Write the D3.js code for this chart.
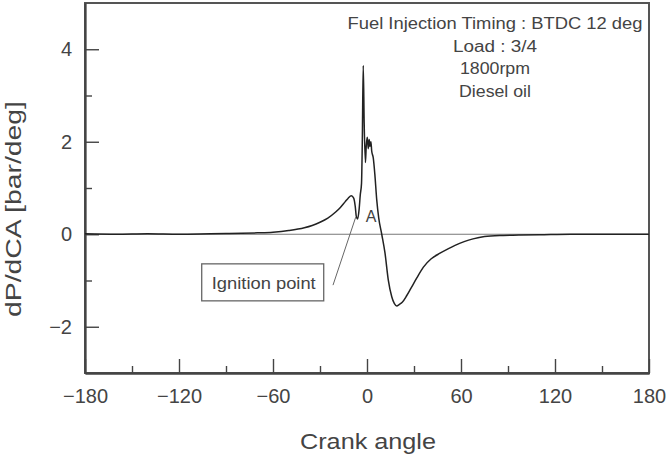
<!DOCTYPE html>
<html>
<head>
<meta charset="utf-8">
<script src="https://cdn.jsdelivr.net/npm/d3@7"></script>
<style>
  html, body { margin: 0; padding: 0; background: #fff; overflow: hidden; }
  svg { display: block; font-family: "Liberation Sans", Arial, sans-serif; }
  .axis text { fill: #444; font-size: 20px; }
  .axis path, .axis line { stroke: #444; }
</style>
</head>
<body>
<svg id="chart"></svg>
<script>
// crank angle (deg) and dP/dCA (bar/deg)
const crankAngle = [-180, -160, -140, -120, -100, -90, -80, -70, -60, -50, -40, -35, -30, -25, -20, -17, -14, -12, -10,
  -8.5, -7.5, -6.8, -6, -5, -4.3, -3.5, -3.0, -2.4, -1.8, -1.0, -0.5, 0.2, 0.8, 1.4, 1.9, 2.5, 3.0, 4.0, 5.0, 6.2, 7.5,
  9.4, 11.5, 13.6, 15.8, 17.5, 19, 20.5, 22.5, 25.3, 28, 31.7, 36, 41, 46.6, 52, 56.2, 62, 67.7, 75, 87, 98, 110, 130, 150, 180];
const dPdCA = [0.01, 0.0, 0.01, 0.0, 0.01, 0.015, 0.02, 0.03, 0.045, 0.08, 0.14, 0.19, 0.26, 0.35, 0.48, 0.58, 0.7, 0.78, 0.83,
  0.78, 0.6, 0.38, 0.33, 0.55, 0.85, 1.1, 2.0, 3.65, 2.4, 1.55, 1.9, 2.1, 1.85, 2.05, 1.9, 2.0, 1.8, 1.65, 1.3, 0.75, 0.35,
  0.0, -0.41, -0.99, -1.35, -1.5, -1.55, -1.52, -1.47, -1.33, -1.17, -0.95, -0.71, -0.53, -0.41, -0.31, -0.24, -0.16, -0.1, -0.05, -0.025, -0.015, -0.01, 0.0, 0.0, 0.0];

const xTicks = [-180, -120, -60, 0, 60, 120, 180];
const xMinorTicks = [-150, -90, -30, 30, 90, 150];
const yTicks = [-2, 0, 2, 4];
const yMinorTicks = [-1, 1, 3];

const infoLines = ["Fuel Injection Timing : BTDC 12 deg", "Load : 3/4", "1800rpm", "Diesel oil"];
const infoWidths = [295, 84, 70, 72];

const config = {
  width: 668, height: 454,
  margin: {top: 3, right: 19, bottom: 81, left: 85}
};

const svg = d3.select('#chart')
  .attr('width', config.width)
  .attr('height', config.height);

const w = config.width - config.margin.left - config.margin.right;
const h = config.height - config.margin.top - config.margin.bottom;

const chart = svg.append('g')
  .attr('transform', `translate(${config.margin.left},${config.margin.top})`);

const xScale = d3.scaleLinear().domain([-180, 180]).range([0, w]);
const yScale = d3.scaleLinear().domain([-3, 5]).range([h, 0]);

// frame box
chart.append('rect')
  .attr('x', 0).attr('y', 0)
  .attr('width', w).attr('height', h)
  .attr('fill', 'none')
  .attr('stroke', '#555')
  .attr('stroke-width', 2);

// zero line
chart.append('line')
  .attr('x1', 0).attr('x2', w)
  .attr('y1', yScale(0)).attr('y2', yScale(0))
  .attr('stroke', '#777').attr('stroke-width', 1.2);

const minus = d => d3.format('')(d).replace('-', '\u2212');

// axes, ticks point inward
chart.append('g')
  .attr('class', 'axis x-axis')
  .attr('transform', `translate(0,${h})`)
  .call(d3.axisBottom(xScale).tickValues(xTicks).tickSize(-14).tickPadding(16)
    .tickFormat(minus).tickSizeOuter(0));
chart.append('g')
  .attr('class', 'axis')
  .attr('transform', `translate(0,${h})`)
  .call(d3.axisBottom(xScale).tickValues(xMinorTicks).tickSize(-7).tickFormat('').tickSizeOuter(0));

chart.append('g')
  .attr('class', 'axis y-axis')
  .call(d3.axisLeft(yScale).tickValues(yTicks).tickSize(-14).tickPadding(13)
    .tickFormat(minus).tickSizeOuter(0));
chart.append('g')
  .attr('class', 'axis')
  .call(d3.axisLeft(yScale).tickValues(yMinorTicks).tickSize(-7).tickFormat('').tickSizeOuter(0));

chart.selectAll('.axis path').attr('stroke-width', 1.8);
chart.selectAll('.axis line').attr('stroke-width', 1.4);

// curve
const data = crankAngle.map((c, i) => ({c, v: dPdCA[i]}));
const line = d3.line()
  .x(d => xScale(d.c))
  .y(d => yScale(d.v))
  .curve(d3.curveMonotoneX);

chart.append('path')
  .datum(data)
  .attr('d', line)
  .attr('fill', 'none')
  .attr('stroke', '#222')
  .attr('stroke-width', 1.5);

// axis labels
svg.append('text')
  .attr('x', config.margin.left + w / 2 + 1)
  .attr('y', 449)
  .attr('text-anchor', 'middle')
  .attr('font-size', 22)
  .attr('textLength', 136)
  .attr('lengthAdjust', 'spacingAndGlyphs')
  .attr('fill', '#444')
  .text('Crank angle');

svg.append('text')
  .attr('transform', 'translate(21,209) rotate(-90)')
  .attr('text-anchor', 'middle')
  .attr('font-size', 22)
  .attr('textLength', 216)
  .attr('lengthAdjust', 'spacingAndGlyphs')
  .attr('fill', '#444')
  .text('dP/dCA [bar/deg]');

// info text block
svg.selectAll('.info')
  .data(infoLines)
  .join('text')
  .attr('class', 'info')
  .attr('x', 495)
  .attr('y', (d, i) => 29 + i * 22.5)
  .attr('text-anchor', 'middle')
  .attr('font-size', 16)
  .attr('textLength', (d, i) => infoWidths[i])
  .attr('lengthAdjust', 'spacingAndGlyphs')
  .attr('fill', '#444')
  .text(d => d);

// annotation: A and ignition point
chart.append('text')
  .attr('x', xScale(-0.8)).attr('y', yScale(0.26))
  .attr('font-size', 16)
  .attr('fill', '#444')
  .text('A');

chart.append('line')
  .attr('x1', xScale(-21.7)).attr('y1', yScale(-1.1))
  .attr('x2', xScale(-7.2)).attr('y2', yScale(0.37))
  .attr('stroke', '#666').attr('stroke-width', 1);

const box = chart.append('g')
  .attr('transform', `translate(${xScale(-105.5)},${yScale(-0.64)})`);
box.append('rect')
  .attr('width', 122).attr('height', 37)
  .attr('fill', '#fff').attr('stroke', '#666').attr('stroke-width', 1.3);
box.append('text')
  .attr('x', 62).attr('y', 25)
  .attr('text-anchor', 'middle')
  .attr('font-size', 17)
  .attr('textLength', 104)
  .attr('lengthAdjust', 'spacingAndGlyphs')
  .attr('fill', '#444')
  .text('Ignition point');
</script>
</body>
</html>
